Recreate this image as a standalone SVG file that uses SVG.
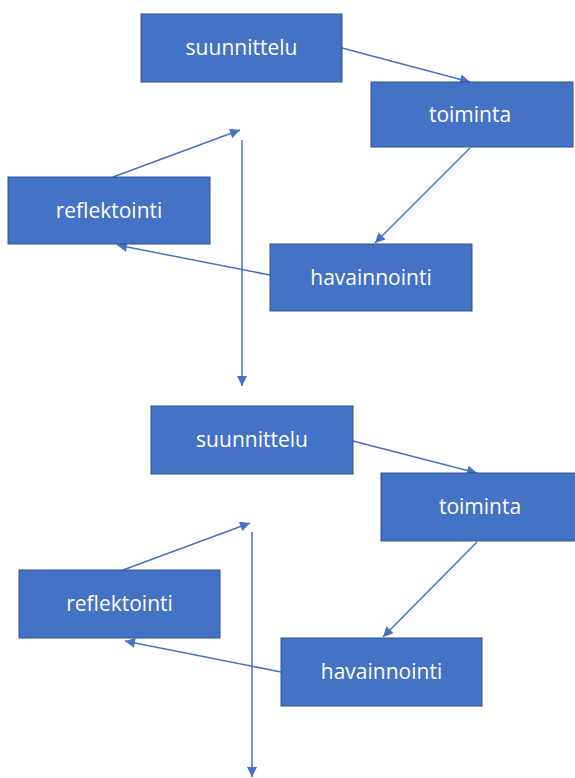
<svg xmlns="http://www.w3.org/2000/svg" width="575" height="778" viewBox="0 0 575 778">
<style>
.box{fill:#4472C4;stroke:#2F528F;stroke-width:1}
.lbl{fill:#FFFFFF;font-family:"Open Sans","Liberation Sans",sans-serif;font-size:21px;text-anchor:middle;dominant-baseline:central}
.conn{stroke:#4472C4;stroke-width:1.5;fill:none;marker-end:url(#ah)}
</style>
<defs>
<marker id="ah" viewBox="0 0 10 10" refX="10" refY="5" markerWidth="11" markerHeight="10" markerUnits="userSpaceOnUse" orient="auto">
<path d="M0,0 L10,5 L0,10 z" fill="#4472C4"/>
</marker>
</defs>
<rect width="575" height="778" fill="#FFFFFF"/>
<g id="connectors">
<line class="conn" x1="342" y1="48" x2="470" y2="82"/>
<line class="conn" x1="470" y1="148" x2="375" y2="243"/>
<line class="conn" x1="270" y1="275" x2="117" y2="245"/>
<line class="conn" x1="113" y1="177" x2="240" y2="130"/>
<line class="conn" x1="242" y1="140" x2="242" y2="386"/>
<line class="conn" x1="353" y1="441" x2="477" y2="473"/>
<line class="conn" x1="477" y1="542" x2="383" y2="637"/>
<line class="conn" x1="281" y1="672" x2="125" y2="641"/>
<line class="conn" x1="123" y1="570" x2="250" y2="523"/>
<line class="conn" x1="252" y1="532" x2="252" y2="777"/>
</g>
<g id="suunnittelu1"><rect class="box" x="141" y="14" width="201" height="68"/><text class="lbl" x="241.5" y="47">suunnittelu</text></g>
<g id="toiminta1"><rect class="box" x="371" y="82" width="202" height="65"/><text class="lbl" x="470" y="113.5">toiminta</text></g>
<g id="reflektointi1"><rect class="box" x="8" y="177" width="202" height="67"/><text class="lbl" x="109" y="209.5">reflektointi</text></g>
<g id="havainnointi1"><rect class="box" x="270" y="244" width="202" height="67"/><text class="lbl" x="371" y="276.5">havainnointi</text></g>
<g id="suunnittelu2"><rect class="box" x="151" y="406" width="202" height="68"/><text class="lbl" x="252" y="439">suunnittelu</text></g>
<g id="toiminta2"><rect class="box" x="381" y="473" width="202" height="68"/><text class="lbl" x="480" y="506">toiminta</text></g>
<g id="reflektointi2"><rect class="box" x="19" y="570" width="201" height="68"/><text class="lbl" x="119.5" y="603">reflektointi</text></g>
<g id="havainnointi2"><rect class="box" x="281" y="638" width="201" height="68"/><text class="lbl" x="381.5" y="671">havainnointi</text></g>
</svg>
